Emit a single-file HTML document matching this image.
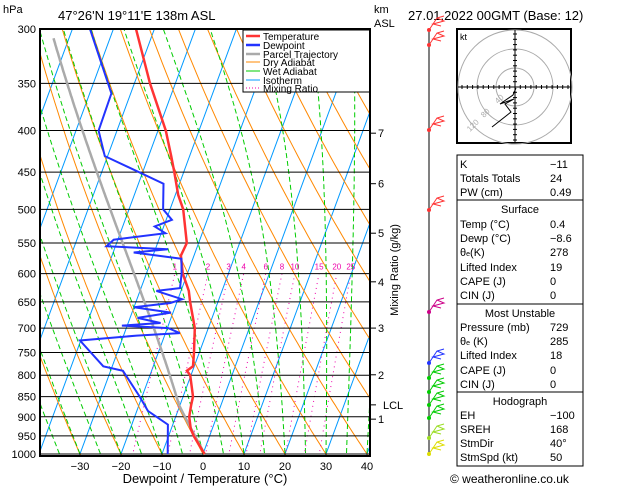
<!DOCTYPE html>
<html><head><meta charset="utf-8"><style>
html,body{margin:0;padding:0;background:#fff;}
svg{display:block;font-family:"Liberation Sans",sans-serif;}
</style></head><body>
<svg id="c" width="629" height="486" viewBox="0 0 629 486" xmlns="http://www.w3.org/2000/svg">
<defs><clipPath id="pc"><rect x="40" y="29" width="330" height="427"/></clipPath></defs>
<text x="3" y="13" font-size="11">hPa</text>
<text x="58" y="20" font-size="13">47°26'N  19°11'E  138m  ASL</text>
<text x="374" y="13" font-size="11">km</text>
<text x="374" y="27" font-size="11">ASL</text>
<text x="408" y="20" font-size="13">27.01.2022  00GMT  (Base: 12)</text>
<g id="bg" clip-path="url(#pc)"></g>
<g id="fg" clip-path="url(#pc)"></g>
<g id="axes"></g>
<g id="legend">
<rect x="243" y="30" width="127" height="62" fill="#fff" stroke="#000" stroke-width="1"/>
<line x1="246" y1="36" x2="260" y2="36" stroke="#f33" stroke-width="2.5"/><text x="263" y="40" font-size="10">Temperature</text>
<line x1="246" y1="45" x2="260" y2="45" stroke="#23f" stroke-width="2.5"/><text x="263" y="49" font-size="10">Dewpoint</text>
<line x1="246" y1="54" x2="260" y2="54" stroke="#aaa" stroke-width="2.5"/><text x="263" y="58" font-size="10">Parcel Trajectory</text>
<line x1="246" y1="62" x2="260" y2="62" stroke="#f80" stroke-width="1"/><text x="263" y="66" font-size="10">Dry Adiabat</text>
<line x1="246" y1="71" x2="260" y2="71" stroke="#0c0" stroke-width="1"/><text x="263" y="75" font-size="10">Wet Adiabat</text>
<line x1="246" y1="80" x2="260" y2="80" stroke="#09f" stroke-width="1"/><text x="263" y="84" font-size="10">Isotherm</text>
<line x1="246" y1="88" x2="260" y2="88" stroke="#e0a" stroke-width="1" stroke-dasharray="1,2"/><text x="263" y="92" font-size="10">Mixing Ratio</text>
</g>
<rect x="40" y="29" width="330" height="427" fill="none" stroke="#000" stroke-width="2"/>
<text x="205" y="483" font-size="13" text-anchor="middle">Dewpoint / Temperature (°C)</text>
<text transform="translate(398,270) rotate(-90)" font-size="11" text-anchor="middle">Mixing Ratio (g/kg)</text>
<g id="winds"></g>
<g>
<rect x="457" y="29" width="114" height="114" fill="#fff" stroke="#000" stroke-width="2"/>
<circle cx="515" cy="87" r="19" fill="none" stroke="#aaa"/>
<circle cx="515" cy="87" r="38" fill="none" stroke="#aaa"/>
<circle cx="515" cy="87" r="57" fill="none" stroke="#aaa"/>
<line x1="458" y1="87" x2="570" y2="87" stroke="#000"/>
<line x1="515" y1="30" x2="515" y2="142" stroke="#000"/>
<text x="460" y="40" font-size="9">kt</text>
<text x="498" y="104" font-size="8" fill="#aaa" transform="rotate(-45 498 104)">40</text>
<text x="484" y="118" font-size="8" fill="#aaa" transform="rotate(-45 484 118)">80</text>
<text x="470" y="132" font-size="8" fill="#aaa" transform="rotate(-45 470 132)">120</text>
<polyline points="516,88 513,95 500,104 514,99 505,104 511,112 492,127" fill="none" stroke="#000"/>
</g>
<g id="hticks"></g>
<g font-size="11">
<rect x="457" y="155" width="126" height="45" fill="none" stroke="#000"/>
<rect x="457" y="200" width="126" height="104" fill="none" stroke="#000"/>
<rect x="457" y="304" width="126" height="88" fill="none" stroke="#000"/>
<rect x="457" y="392" width="126" height="74" fill="none" stroke="#000"/>
<text x="460" y="168">K</text><text x="550" y="168">−11</text>
<text x="460" y="182">Totals Totals</text><text x="550" y="182">24</text>
<text x="460" y="196">PW (cm)</text><text x="550" y="196">0.49</text>
<text x="520" y="213" text-anchor="middle">Surface</text>
<text x="460" y="228">Temp (°C)</text><text x="550" y="228">0.4</text>
<text x="460" y="242">Dewp (°C)</text><text x="550" y="242">−8.6</text>
<text x="460" y="256">θ<tspan font-size="7">e</tspan>(K)</text><text x="550" y="256">278</text>
<text x="460" y="271">Lifted Index</text><text x="550" y="271">19</text>
<text x="460" y="285">CAPE (J)</text><text x="550" y="285">0</text>
<text x="460" y="299">CIN (J)</text><text x="550" y="299">0</text>
<text x="520" y="317" text-anchor="middle">Most Unstable</text>
<text x="460" y="331">Pressure (mb)</text><text x="550" y="331">729</text>
<text x="460" y="345">θ<tspan font-size="7">e</tspan> (K)</text><text x="550" y="345">285</text>
<text x="460" y="359">Lifted Index</text><text x="550" y="359">18</text>
<text x="460" y="374">CAPE (J)</text><text x="550" y="374">0</text>
<text x="460" y="388">CIN (J)</text><text x="550" y="388">0</text>
<text x="520" y="405" text-anchor="middle">Hodograph</text>
<text x="460" y="419">EH</text><text x="550" y="419">−100</text>
<text x="460" y="433">SREH</text><text x="550" y="433">168</text>
<text x="460" y="447">StmDir</text><text x="550" y="447">40°</text>
<text x="460" y="461">StmSpd (kt)</text><text x="550" y="461">50</text>
</g>
<text x="450" y="483" font-size="12">© weatheronline.co.uk</text>
</svg>
<script>
const tempP=[1000,950,930,900,870,850,800,790,780,750,700,650,630,600,570,550,500,480,450,430,400,350,300];
const tempT=[0.4,-3.9,-5.3,-6.7,-7.3,-7.6,-10.2,-11.4,-10.3,-11.3,-13.3,-16.8,-18.1,-21.1,-23.2,-22.9,-26.8,-29.3,-32.3,-34.5,-38.1,-46.2,-54.5];
const dewP=[1000,920,885,850,790,780,725,715,710,700,695,690,680,670,660,652,645,630,625,600,575,565,560,555,545,535,525,515,500,465,430,400,360,300];
const dewT=[-8.6,-11.2,-17.3,-20.6,-27,-32.2,-40.2,-26.8,-16.5,-19.8,-31.3,-22.1,-28.2,-20.5,-30,-21.5,-19,-26,-20.5,-21.4,-22.8,-35,-26.9,-42.2,-41,-29,-32.2,-28.6,-31.7,-33.9,-50.7,-54.5,-54.7,-65.7];
const pressureTicks=[300,350,400,450,500,550,600,650,700,750,800,850,900,950,1000];
const tempTicks=[-30,-20,-10,0,10,20,30,40];
const mixRatios=[1,2,3,4,6,8,10,15,20,25];
const kmTicks=[1,2,3,4,5,6,7];
const kmPressure=[906,799,700,614,535,465,403];
const surfT=0.4, surfTd=-8.6;

const NS="http://www.w3.org/2000/svg";
function Y(p){return 29+425*Math.log(p/300)/Math.log(1000/300);}
function X(T,p){return 203+4.1*T+0.368*(454-Y(p));}
function mk(tag,attrs,parent){const e=document.createElementNS(NS,tag);for(const k in attrs)e.setAttribute(k,attrs[k]);parent.appendChild(e);return e;}
function pl(pts,parent,st){return mk('polyline',Object.assign({points:pts.map(q=>q[0].toFixed(1)+','+q[1].toFixed(1)).join(' '),fill:'none'},st),parent);}
const bg=document.getElementById('bg'),fg=document.getElementById('fg'),ax=document.getElementById('axes');
for(let T=-140;T<=40;T+=10){const e=pl([[X(T,1020),Y(1020)],[X(T,290),Y(290)]],bg,{stroke:'#09f','stroke-width':1});

}
for(let th=-60;th<=150;th+=10){const pts=[];for(let p=1020;p>=290;p-=10){const T=(th+273.15)*Math.pow(p/1000,0.286)-273.15;pts.push([X(T,p),Y(p)]);}
const e=pl(pts,bg,{stroke:'#f80','stroke-width':1});

}
function es(T){return 6.112*Math.exp(17.67*T/(T+243.5));}
function moist(T0,p0,p1){const pts=[];let T=T0+273.15;let p=p0;const dp=p1<p0?-2:2;
pts.push([p,T-273.15]);
while((dp<0&&p>p1)||(dp>0&&p<p1)){const e=es(T-273.15);const rs=0.622*e/(p-e);const Rd=287,cp=1005,L=2.5e6;
const dTdp=(Rd*T+L*rs)/(p*(cp+L*L*rs*0.622/(Rd*T*T)));T+=dTdp*dp;p+=dp;pts.push([p,T-273.15]);}
return pts;}
for(let tw=-40;tw<=45;tw+=5){const a=moist(tw,1000,290),b=moist(tw,1000,1020);const pts=b.reverse().concat(a).map(q=>[X(q[1],q[0]),Y(q[0])]);
const e=pl(pts,bg,{stroke:'#0c0','stroke-width':1,'stroke-dasharray':'5,3'});

}
for(const w of mixRatios){const pts=[];for(let p=1020;p>=600;p-=10){const e=w*p/(622+w);const l=Math.log(e/6.112);const Td=243.5*l/(17.67-l);pts.push([X(Td,p),Y(p)]);}
const e=pl(pts,bg,{stroke:'#e0a','stroke-width':1,'stroke-dasharray':'1,4'});


const e0=w*600/(622+w);const l=Math.log(e0/6.112);const Td=243.5*l/(17.67-l);
const t=mk('text',{x:X(Td,600).toFixed(1),y:Y(600)-4,'font-size':8,fill:'#e0a','text-anchor':'middle'},fg);t.textContent=w;

}
for(const p of pressureTicks){const e=mk('line',{x1:40,x2:370,y1:Y(p),y2:Y(p),stroke:'#000','stroke-width':1},fg);


const t=mk('text',{x:36,y:Y(p)+4,'font-size':11,'text-anchor':'end'},ax);t.textContent=p;

}
for(const T of tempTicks){const t=mk('text',{x:X(T,1000),y:470,'font-size':11,'text-anchor':'middle'},ax);t.textContent=T<0?'−'+(-T):T;

}
for(let i=0;i<kmTicks.length;i++){const y=Y(kmPressure[i]);mk('line',{x1:370,x2:376,y1:y,y2:y,stroke:'#000'},ax);
const t=mk('text',{x:378,y:y+4,'font-size':11},ax);t.textContent=kmTicks[i];

}
const Tl=surfTd-(0.001296*surfTd+0.1963)*(surfT-surfTd);const pl_=1000*Math.pow((Tl+273.15)/(surfT+273.15),3.5);
mk('line',{x1:370,x2:376,y1:Y(pl_),y2:Y(pl_),stroke:'#000'},ax);
const lt=mk('text',{x:383,y:Y(pl_)+4,'font-size':11},ax);lt.textContent='LCL';


const parcel=[];for(let p=1000;p>=pl_;p-=5){const T=(surfT+273.15)*Math.pow(p/1000,0.286)-273.15;parcel.push([X(T,p),Y(p)]);}
moist(Tl,pl_,310).forEach(q=>parcel.push([X(q[1],q[0]),Y(q[0])]));
const pe=pl(parcel,fg,{stroke:'#aaa','stroke-width':2.5});


const te=pl(tempP.map((p,i)=>[X(tempT[i],p),Y(p)]),fg,{stroke:'#f33','stroke-width':2.5});


const de=pl(dewP.map((p,i)=>[X(dewT[i],p),Y(p)]),fg,{stroke:'#23f','stroke-width':2});


const wg=document.getElementById('winds');
mk('line',{x1:429,x2:429,y1:30,y2:456,stroke:'#000'},wg);
const barbs=[[30,'#f33'],[45,'#f33'],[130,'#f33'],[210,'#f33'],[312,'#c08'],[363,'#23f'],[378,'#0c0'],[392,'#0c0'],[405,'#0c0'],[418,'#0c0'],[438,'#9d2'],[454,'#dd0']];
for(const b of barbs){mk('circle',{cx:429,cy:b[0],r:2,fill:b[1]},wg);
pl([[429,b[0]],[437,b[0]-12],[444,b[0]-14]],wg,{stroke:b[1],'stroke-width':1});
pl([[437,b[0]-12],[444,b[0]-9],[433,b[0]-6],[441,b[0]-4]],wg,{stroke:b[1],'stroke-width':1});}
const hg=document.getElementById('hticks');
for(let i=-10;i<=10;i++){if(!i)continue;mk('line',{x1:515+i*5.3,x2:515+i*5.3,y1:85,y2:89,stroke:'#000'},hg);mk('line',{y1:87+i*5.3,y2:87+i*5.3,x1:513,x2:517,stroke:'#000'},hg);}
</script>
</body></html>
